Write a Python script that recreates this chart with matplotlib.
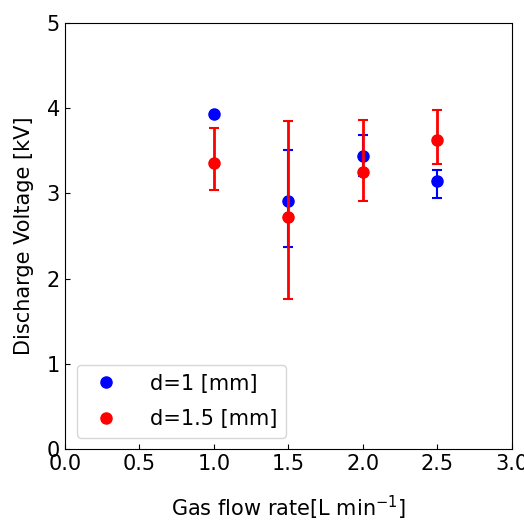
import numpy as np
import matplotlib.pyplot as plt

flow = [1.0, 1.5, 2.0, 2.5]

v1 = [3.93, 2.91, 3.44, 3.15]
v1_lo = [0.0, 0.54, 0.24, 0.20]
v1_hi = [0.0, 0.60, 0.24, 0.12]

v15 = [3.36, 2.72, 3.25, 3.63]
v15_lo = [0.32, 0.96, 0.34, 0.28]
v15_hi = [0.41, 1.13, 0.61, 0.35]

fig = plt.figure(figsize=(5.24, 5.2), dpi=100)
ax = fig.add_axes([0.124, 0.1365, 0.853, 0.8195])

ax.errorbar(flow, v1, yerr=[v1_lo, v1_hi], fmt='none', ecolor='blue',
            elinewidth=1.5, capsize=3.5, capthick=1.5)
ax.plot(flow, v1, 'o', color='blue', markersize=8, label='d=1 [mm]')
ax.errorbar(flow, v15, yerr=[v15_lo, v15_hi], fmt='none', ecolor='red',
            elinewidth=2, capsize=3.5, capthick=1.5)
ax.plot(flow, v15, 'o', color='red', markersize=8, label='d=1.5 [mm]')

ax.set_xlim(0, 3.0)
ax.set_ylim(0, 5)
ax.set_xticks(np.arange(0, 3.01, 0.5))
ax.set_yticks(range(0, 6))
ax.tick_params(direction='in', labelsize=15)
ax.set_xlabel('Gas flow rate[L min$^{-1}$]', fontsize=15, labelpad=14)
ax.set_ylabel('Discharge Voltage [kV]', fontsize=15, labelpad=9)
ax.legend(loc='lower left', fontsize=15, handletextpad=1.1, labelspacing=0.75,
          borderaxespad=0, bbox_to_anchor=(0.027, 0.027))

fig.savefig('out.png', dpi=100)
